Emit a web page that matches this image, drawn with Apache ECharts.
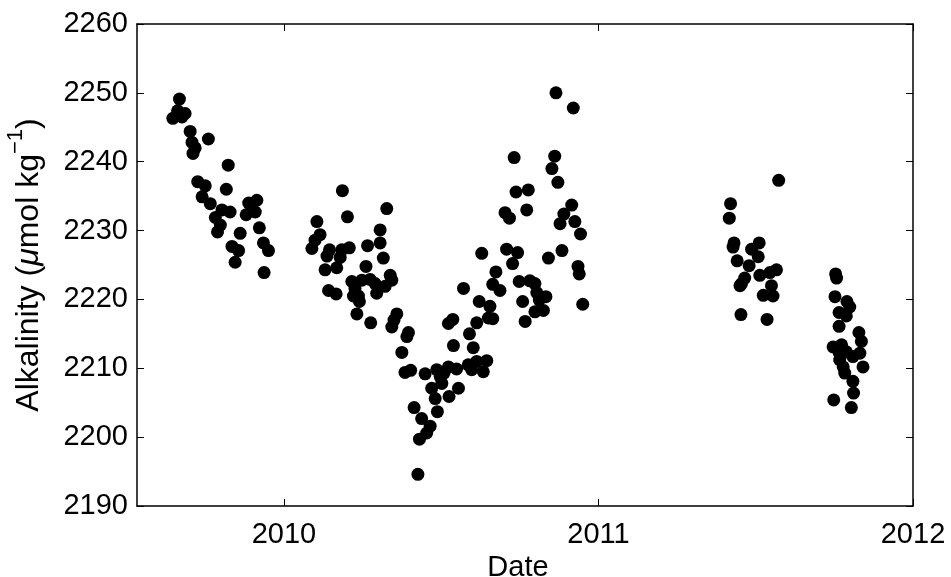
<!DOCTYPE html>
<html lang="en">
<head>
    <meta charset="UTF-8">
    <title>Alkalinity</title>
    <script src="https://cdn.jsdelivr.net/npm/echarts@6/dist/echarts.min.js"></script>
    <style>
        html, body { margin: 0; padding: 0; background: #fff; }
        #chart { width: 951px; height: 577px; }
    </style>
</head>
<body>
<div id="chart"></div>
<script type="text/javascript">
    // sample dates (decimal year) and alkalinity values
    var dates = [
        2009.668, 2009.662, 2009.686, 2009.647, 2009.676, 2009.702, 2009.760, 2009.708, 2009.718, 2009.711,
        2009.823, 2009.726, 2009.750, 2009.817, 2009.740, 2009.766, 2009.914, 2009.888, 2009.880, 2009.909,
        2009.803, 2009.829, 2009.782, 2009.798, 2009.789, 2009.861, 2009.922, 2009.935, 2009.951, 2009.835,
        2009.856, 2009.845, 2009.937,
        2010.105, 2010.115, 2010.099, 2010.089, 2010.145, 2010.137, 2010.131, 2010.168, 2010.184, 2010.179,
        2010.186, 2010.202, 2010.208, 2010.142, 2010.166, 2010.216, 2010.226, 2010.221, 2010.237, 2010.240,
        2010.232, 2010.248, 2010.261, 2010.266, 2010.274, 2010.290, 2010.276, 2010.295, 2010.306, 2010.306,
        2010.316, 2010.322, 2010.327, 2010.338, 2010.343, 2010.359, 2010.350, 2010.343, 2010.396, 2010.391,
        2010.375, 2010.385, 2010.403, 2010.414, 2010.438, 2010.465, 2010.431, 2010.454, 2010.426, 2010.449,
        2010.486, 2010.509, 2010.523, 2010.470, 2010.481, 2010.525, 2010.502, 2010.497, 2010.488,
        2010.865, 2010.920, 2010.732, 2010.861, 2010.852, 2010.871, 2010.738, 2010.777, 2010.772, 2010.703,
        2010.717, 2010.915, 2010.890, 2010.878, 2010.925, 2010.943, 2010.629, 2010.708, 2010.743, 2010.727,
        2010.841, 2010.884, 2010.935, 2010.939, 2010.950, 2010.674, 2010.664, 2010.687, 2010.571, 2010.748,
        2010.782, 2010.798, 2010.804, 2010.833, 2010.812, 2010.759, 2010.798, 2010.825, 2010.767, 2010.621,
        2010.655, 2010.613, 2010.650, 2010.664, 2010.523, 2010.537, 2010.590, 2010.539, 2010.602, 2010.586,
        2010.613, 2010.645, 2010.634, 2010.597, 2010.549, 2010.555,
        2011.573, 2011.420, 2011.416, 2011.431, 2011.428, 2011.511, 2011.487, 2011.508, 2011.441, 2011.479,
        2011.566, 2011.545, 2011.513, 2011.465, 2011.455, 2011.450, 2011.550, 2011.524, 2011.555, 2011.453,
        2011.536,
        2011.754, 2011.757, 2011.752, 2011.790, 2011.799, 2011.765, 2011.788, 2011.765, 2011.828, 2011.836,
        2011.746, 2011.773, 2011.765, 2011.788, 2011.809, 2011.831, 2011.767, 2011.778, 2011.783, 2011.841,
        2011.809, 2011.811, 2011.748, 2011.804
    ];
    var alkalinity = [
        2249.1, 2247.4, 2247.0, 2246.3, 2246.5, 2244.4, 2243.3, 2242.8, 2242.0, 2241.2,
        2239.5, 2237.1, 2236.5, 2236.0, 2234.9, 2233.9, 2234.4, 2234.0, 2232.3, 2232.7,
        2233.0, 2232.7, 2231.9, 2230.8, 2229.8, 2229.6, 2230.4, 2228.2, 2227.1, 2227.7,
        2227.1, 2225.4, 2223.9,
        2231.3, 2229.4, 2228.6, 2227.4, 2227.2, 2226.3, 2224.3, 2224.6, 2227.2, 2226.1,
        2235.8, 2232.0, 2227.5, 2221.3, 2220.8, 2222.6, 2221.6, 2220.5, 2220.5, 2219.7,
        2217.9, 2222.8, 2224.8, 2227.8, 2222.9, 2222.3, 2216.6, 2220.9, 2230.1, 2228.2,
        2226.0, 2221.9, 2233.2, 2223.5, 2222.8, 2217.9, 2217.0, 2216.0, 2215.2, 2214.6,
        2212.3, 2209.4, 2209.7, 2204.3, 2202.7, 2201.6, 2199.7, 2200.6, 2194.6, 2209.2,
        2209.8, 2209.3, 2210.2, 2207.1, 2205.6, 2205.9, 2207.8, 2208.8, 2203.7,
        2250.0, 2247.8, 2240.6, 2240.8, 2239.0, 2237.0, 2235.6, 2235.9, 2233.0, 2232.6,
        2231.8, 2233.7, 2232.4, 2231.0, 2231.3, 2229.5, 2226.7, 2227.3, 2226.8, 2225.2,
        2226.0, 2227.1, 2224.8, 2223.7, 2219.3, 2224.0, 2222.2, 2221.3, 2221.6, 2222.6,
        2222.7, 2222.3, 2221.0, 2220.4, 2219.9, 2219.7, 2218.2, 2218.4, 2216.8, 2219.7,
        2219.0, 2216.6, 2217.3, 2217.2, 2216.5, 2217.1, 2215.0, 2213.3, 2213.0, 2210.5,
        2211.0, 2211.1, 2209.5, 2209.8, 2209.9, 2207.1,
        2237.3, 2233.9, 2231.8, 2228.2, 2227.6, 2228.2, 2227.3, 2226.2, 2225.6, 2224.9,
        2224.3, 2223.9, 2223.5, 2223.1, 2222.3, 2222.0, 2222.0, 2220.6, 2220.5, 2217.8,
        2217.1,
        2223.7, 2223.1, 2220.4, 2219.7, 2218.9, 2218.1, 2217.6, 2216.1, 2215.2, 2213.9,
        2213.1, 2213.4, 2212.3, 2212.4, 2211.7, 2212.2, 2211.2, 2210.2, 2209.3, 2210.2,
        2208.1, 2206.4, 2205.4, 2204.3
    ];
    var yearTicks = [2010, 2011, 2012];

    var points = dates.map(function (d, i) {
        return [d, alkalinity[i]];
    });

    var chart = echarts.init(document.getElementById('chart'));
    var font = '"Liberation Sans", Arial, Helvetica, sans-serif';

    var xBase = {
        type: 'value',
        min: 2009.533,
        max: 2012,
        splitLine: {show: false},
        axisLine: {show: true, onZero: false, lineStyle: {color: '#000', width: 1.5}},
        axisTick: {show: true, inside: true, length: 7, customValues: yearTicks, lineStyle: {color: '#000', width: 1}}
    };
    var yBase = {
        type: 'value',
        min: 2190,
        max: 2260,
        interval: 10,
        splitLine: {show: false},
        axisLine: {show: true, onZero: false, lineStyle: {color: '#000', width: 1.5}},
        axisTick: {show: true, inside: true, length: 7, lineStyle: {color: '#000', width: 1}}
    };

    var option = {
        backgroundColor: '#fff',
        animation: false,
        textStyle: {fontFamily: font},
        grid: {left: 137, right: 38, top: 24, bottom: 71, containLabel: false, outerBoundsMode: 'none'},
        xAxis: [
            echarts.util.merge({
                position: 'bottom',
                name: 'Date',
                nameLocation: 'middle',
                nameGap: 38,
                nameTextStyle: {color: '#000', fontSize: 29, fontFamily: font, padding: [0, 14, 0, 0]},
                axisLabel: {
                    color: '#000', fontSize: 29, fontFamily: font, margin: 14,
                    customValues: yearTicks,
                    formatter: function (v) { return String(Math.round(v)); }
                }
            }, xBase, true),
            echarts.util.merge({
                position: 'top',
                axisLabel: {show: false}
            }, xBase, true)
        ],
        yAxis: [
            echarts.util.merge({
                position: 'left',
                name: '{t|Alkalinity (}{mu|μ}{t|mol kg}{sup|−1}{t|)}',
                nameLocation: 'middle',
                nameGap: 92,
                nameRotate: 90,
                nameTextStyle: {
                    color: '#000',
                    rich: {
                        t: {fontSize: 32, fontFamily: font, color: '#000', lineHeight: 40, verticalAlign: 'bottom'},
                        mu: {fontSize: 32, fontFamily: font, fontStyle: 'italic', color: '#000', lineHeight: 40, verticalAlign: 'bottom'},
                        sup: {fontSize: 22, fontFamily: font, color: '#000', lineHeight: 40, verticalAlign: 'top'}
                    }
                },
                axisLabel: {
                    color: '#000', fontSize: 29, fontFamily: font, margin: 9,
                    formatter: function (v) { return String(v); }
                }
            }, yBase, true),
            echarts.util.merge({
                position: 'right',
                axisLabel: {show: false}
            }, yBase, true)
        ],
        series: [{
            type: 'scatter',
            data: points,
            symbol: 'circle',
            symbolSize: 13,
            itemStyle: {color: '#000', opacity: 1},
            silent: true
        }]
    };
    chart.setOption(option);
</script>
</body>
</html>
